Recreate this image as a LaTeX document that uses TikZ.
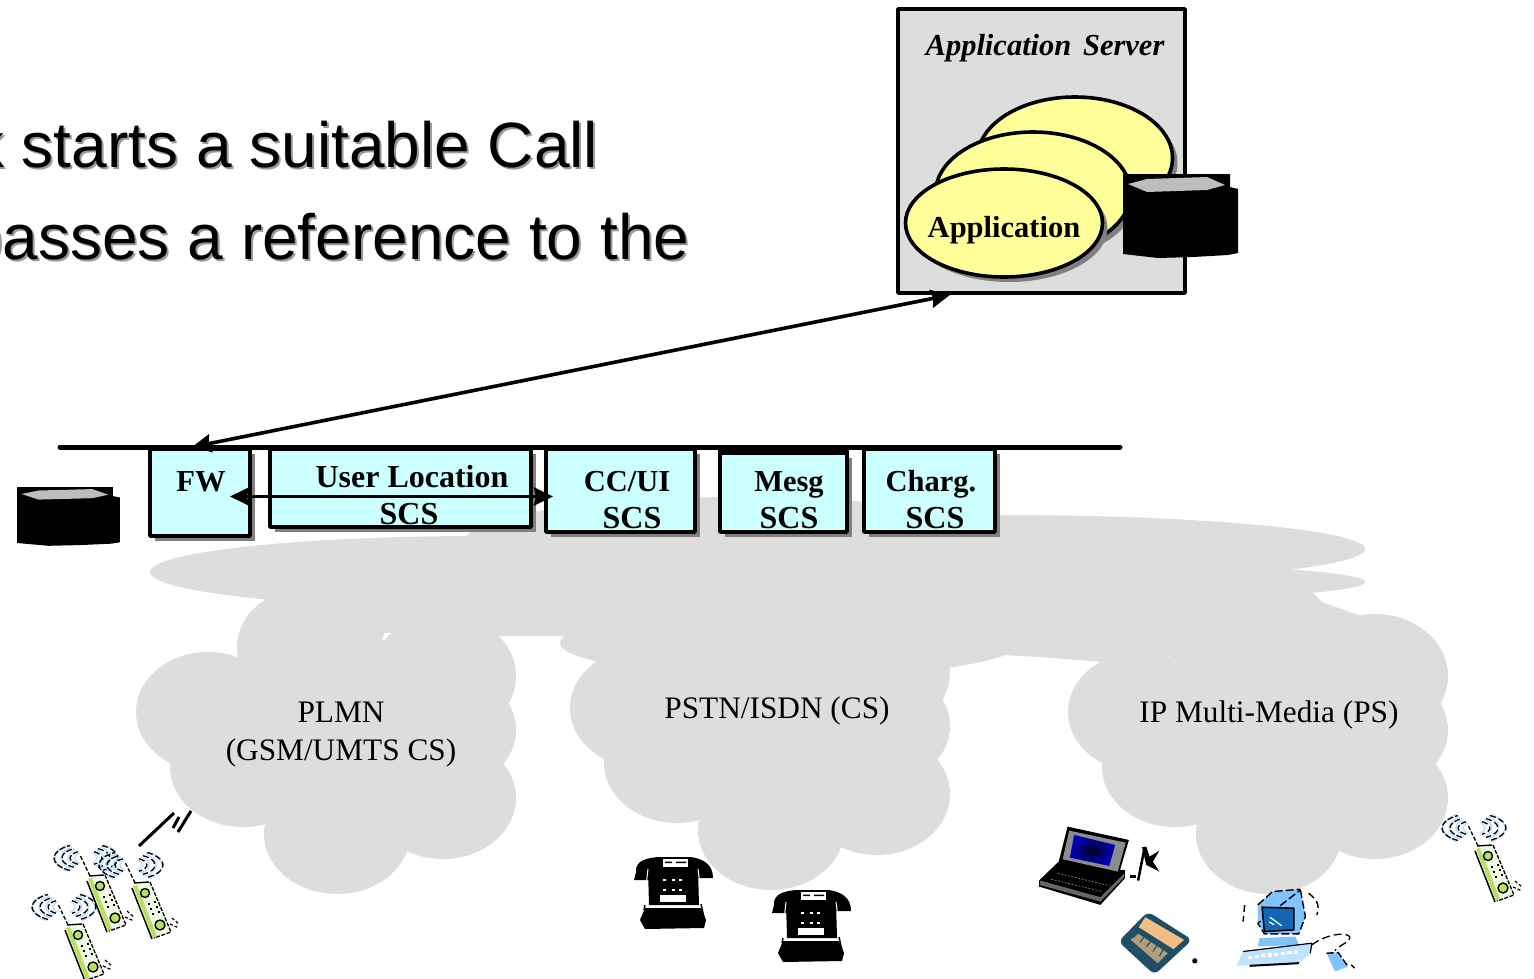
\documentclass[tikz,border=0pt]{standalone}
\usepackage{fontspec}
\setmainfont{Liberation Serif}
\newfontfamily\titlefont{Liberation Sans}
\usetikzlibrary{shapes.geometric,shadows,arrows.meta}
\definecolor{cloudgray}{HTML}{DDDDDD}
\definecolor{shadowgray}{HTML}{808080}
\definecolor{scsfill}{HTML}{CCFFFF}
\definecolor{appfill}{HTML}{FFFF99}
\definecolor{phonegreen}{HTML}{B5E061}
\definecolor{phonepale}{HTML}{F2FBE6}
\definecolor{wavepale}{HTML}{BFE0FF}
\definecolor{pcblue}{HTML}{80C4FF}
\definecolor{pcdark}{HTML}{1466B4}
\definecolor{pcpale}{HTML}{BFE2FF}
\definecolor{pdateal}{HTML}{1F4F66}
\definecolor{pdatan}{HTML}{F2BE85}
\tikzset{
  shadowed/.style={drop shadow={shadow xshift=5pt,shadow yshift=-5pt,opacity=1,fill=shadowgray}},
  scsbox/.style={rectangle,draw=black,line width=3.8pt,fill=scsfill,inner sep=0pt,shadowed},
  appell/.style={ellipse,draw=black,line width=3.6pt,fill=appfill,inner sep=0pt,shadowed},
  scslabel/.style={font=\fontsize{30.5}{36}\selectfont\bfseries,inner sep=0pt,anchor=base},
  scsword/.style={font=\fontsize{32}{36}\selectfont\bfseries,inner sep=0pt,anchor=base},
  cloudlabel/.style={font=\fontsize{31.3}{36}\selectfont,inner sep=0pt,anchor=base},
  titletext/.style={font=\titlefont\fontsize{64}{70}\selectfont,inner sep=0pt,anchor=base west},
  conn/.style={line width=3.6pt,{Stealth[length=19pt,width=18pt,inset=2pt]}-{Stealth[length=19pt,width=18pt,inset=2pt]}},
  cloudpic/.pic={
    \fill[cloudgray] (208,712) ellipse[x radius=72,y radius=60];
    \fill[cloudgray] (243,767) ellipse[x radius=73,y radius=60];
    \fill[cloudgray] (310,647) ellipse[x radius=73,y radius=60];
    \fill[cloudgray] (443,676) ellipse[x radius=73,y radius=62];
    \fill[cloudgray] (443,730) ellipse[x radius=73,y radius=60];
    \fill[cloudgray] (443,798) ellipse[x radius=73,y radius=61];
    \fill[cloudgray] (337,834) ellipse[x radius=73,y radius=60];
    \fill[cloudgray] (250,660) rectangle (470,815);
  },
  handset/.pic={
    \foreach \r in {13,20,27,33}{
      \draw[wavepale,line width=1.6pt,shift={(-21,-45)}] ({(\r-2)*cos(125)},{.5*\r*sin(125)}) arc[start angle=125,end angle=235,x radius=\r-2,y radius=.5*\r];
      \draw[wavepale,line width=1.6pt,shift={(-21,-45)}] ({(\r-2)*cos(-55)},{.5*\r*sin(-55)}) arc[start angle=-55,end angle=55,x radius=\r-2,y radius=.5*\r];
    }
    \foreach \r in {16,24,32}{
      \draw[black,line width=1.3pt,dash pattern=on 6pt off 2pt,shift={(-21,-45)}] ({\r*cos(120)},{.45*\r*sin(120)}) arc[start angle=120,end angle=240,x radius=\r,y radius=.45*\r];
      \draw[black,line width=1.3pt,dash pattern=on 6pt off 3pt,shift={(-21,-45)}] ({\r*cos(-60)},{.45*\r*sin(-60)}) arc[start angle=-60,end angle=60,x radius=\r,y radius=.45*\r];
    }
    \draw[black,line width=1.3pt,dash pattern=on 4pt off 2pt] (-17,-27) -- (-27,-48);
    \fill[phonepale] (-19,-25) -- (-1,-28) -- (19,22) -- (1,28) -- cycle;
    \fill[phonegreen] (-19,-24) -- (-15,-25) -- (5,26) -- (1,28) -- cycle;
    \draw[black,line width=1.5pt] (-20,-22) -- (0,29);
    \draw[black,line width=1.4pt] (-18,-27) -- (-3,-28);
    \draw[black,line width=1.3pt,dash pattern=on 4pt off 1.5pt] (-2,-28) -- (19,22) -- (2,28);
    \draw[black,line width=1.4pt,fill=phonegreen] (-7,-17) circle[radius=4.5];
    \draw[black,line width=1.4pt,fill=phonegreen] (8,15) circle[radius=5];
    \foreach \dx/\dy in {-3/-6,3/-8,-1/-1,5/-3,1/4,7/2}{
      \fill[black] (\dx-1.2,\dy-.9) rectangle (\dx+1.2,\dy+.9);
    }
    \draw[black,line width=1.2pt,dash pattern=on 3pt off 2pt] (20,8) -- (27,14) (18,14) -- (27,18);
  },
  deskphone/.pic={
    \fill[black] (-37,-20) .. controls (-38,-32) and (-25,-34) .. (-15,-35) -- (18,-35) .. controls (30,-33) and (40,-28) .. (40,-14) -- (24,-14) -- (24,-22) -- (-22,-22) -- (-24,-12) -- (-39,-12) -- cycle;
    \fill[white] (-10,-33) rectangle (15,-25);
    \fill[black] (-8,-29) rectangle (-1,-30.5) (3,-29) rectangle (13,-30.5);
    \fill[black] (-25,-23) -- (25,-23) -- (26,13) -- (-24,13) -- cycle;
    \draw[white,line width=1pt] (-25,-23) -- (-29,12) (25,-23) -- (30,16);
    \fill[white] (-13,3) rectangle (13,10);
    \foreach \dx in {-9,0,7}{
      \fill[white] (\dx-1.5,-13) rectangle (\dx+1.5,-11.5);
      \fill[white] (\dx-1.5,-3) rectangle (\dx+1.5,-1.5);
    }
    \fill[black] (-28,16) -- (28,16) -- (33,28) -- (31,36) -- (-28,37) -- (-33,28) -- cycle;
    \draw[black,line width=1.4pt] (-28,13) -- (-29,18) (28,12) -- (32,30);
  },
  dbdisk/.pic={
    \fill[black] (0,0) -- (107,0) -- (107,13) -- (115,15) -- (115,79) -- (105,81) -- (70,83) -- (35,84) -- (0,80) -- cycle;
    \fill[black!26] (5,10) -- (24,5) -- (84,3) -- (102,11) -- (84,16) -- (24,18) -- cycle;
  }
}
\begin{document}
\begin{tikzpicture}[x=1pt,y=-1pt,line join=round]
\useasboundingbox (0,0) rectangle (1534,979);
\begin{scope}
\clip (0,0) rectangle (1534,979);
% title text, cut off at the left edge
\node[titletext,text=black!40] (titleAshadow) at (-26,169.5) {k starts a suitable Call};
\node[titletext,text=black!40] (titleBshadow) at (-31,261.5) {passes a reference to the};
\node[titletext,text=black] (titleA) at (-28,167.5) {k starts a suitable Call};
\node[titletext,text=black] (titleB) at (-33,259.5) {passes a reference to the};

% network clouds
\pic at (0,0) {cloudpic};
\pic at (434,-4) {cloudpic};
\pic at (932,0) {cloudpic};
\fill[cloudgray] (480,572) ellipse[x radius=330,y radius=36];
\fill[cloudgray] (740,541) ellipse[x radius=275,y radius=44];
\fill[cloudgray] (1000,549) ellipse[x radius=365,y radius=34];
\fill[cloudgray] (1000,582) ellipse[x radius=365,y radius=21];
\fill[cloudgray] (790,643) ellipse[x radius=230,y radius=34];
\fill[cloudgray] (300,590) -- (1310,590) -- (1322,602) -- (1358,615) -- (1360,640) -- (1103,662) -- (1040,657) -- (900,650) -- (560,636) -- (300,637) -- cycle;
\fill[white] (384,633) -- (391,633) -- (384,640) -- cycle;

% bus
\coordinate (busL) at (60,447);
\coordinate (busR) at (1120,447);
\draw[black,line width=5pt,line cap=round] (busL) -- (busR);
\fill[black] (718,447) rectangle (849,453);

% SCS boxes
\node[scsbox,minimum width=100pt,minimum height=87pt] (fw) at (200,492.5) {};
\node[scsbox,minimum width=261pt,minimum height=78pt] (ul) at (400.5,488) {};
\node[scsbox,minimum width=149pt,minimum height=83pt] (cc) at (620.5,490.5) {};
\node[scsbox,minimum width=127pt,minimum height=79pt] (mesg) at (783.5,492.5) {};
\node[scsbox,minimum width=131pt,minimum height=83pt] (chg) at (929.5,490.5) {};
\node[scslabel] (fwT) at (201,491) {FW};
\node[scsword] (ulT) at (412,487) {User Location};
\node[scsword] (ulS) at (409,524) {SCS};
\node[scslabel] (ccT) at (627,491) {CC/UI};
\node[scsword] (ccS) at (632,528) {SCS};
\node[scslabel] (mesgT) at (789,491) {Mesg};
\node[scsword] (mesgS) at (789,528) {SCS};
\node[scslabel] (chgT) at (931,491) {Charg.};
\node[scsword] (chgS) at (935,528) {SCS};

% application server
\node[rectangle,draw=black,line width=3.6pt,fill=cloudgray,minimum width=287pt,minimum height=284pt,inner sep=0pt] (as) at (1041.5,151) {};
\node[font=\fontsize{30.5}{36}\selectfont\bfseries\itshape,inner sep=0pt,anchor=base] (asT) at (1045,56) {Application\hspace{4pt} Server};
\node[appell,minimum width=195pt,minimum height=122pt] (app3) at (1075,158) {};
\node[appell,minimum width=195pt,minimum height=122pt] (app2) at (1033,193) {};
\node[appell,minimum width=197pt,minimum height=108pt] (app1) at (1004,223) {};
\node[scslabel] (app1T) at (1004,237) {Application};

% databases
\pic at (1123,174) {dbdisk};
\pic[transform shape,xscale=.895,yscale=.70] at (17,487) {dbdisk};

% connectors
\coordinate (asIn) at (950,295);
\coordinate (fwIn) at (192,447);
\coordinate (fwMid) at (230,496.5);
\coordinate (ccMid) at (553,496.5);
\draw[conn] (fwIn) -- (asIn);
\draw[conn] (fwMid) -- (ccMid);

% cloud labels
\node[cloudlabel] (plmnA) at (341,722) {PLMN};
\node[cloudlabel] (plmnB) at (341,760) {(GSM/UMTS CS)};
\node[cloudlabel] (pstn) at (777,718) {PSTN/ISDN (CS)};
\node[cloudlabel] (ip) at (1269,722) {IP Multi-Media (PS)};

% radio link
\coordinate (rA) at (139,846);
\coordinate (rB) at (174,813);
\coordinate (rC) at (173,828);
\coordinate (rD) at (179,817);
\coordinate (rE) at (178,832);
\coordinate (rF) at (191,811);
\draw[black,line width=3pt] (rA) -- (rB) (rC) -- (rD) (rE) -- (rF);

% terminals
\pic at (107,903) {handset};
\pic at (152,910) {handset};
\pic at (85,952) {handset};
\pic at (1495,873) {handset};
\pic at (673,892) {deskphone};
\pic at (811,925) {deskphone};

% laptop
\begin{scope}[shift={(1020,790)},xscale=.328,yscale=.333]
\fill[black] (145,110) -- (332,150) -- (305,240) -- (320,240) -- (320,265) -- (245,345) -- (58,290) -- (58,272) -- (118,215) -- cycle;
\fill[black!45] (150,122) -- (322,158) -- (298,245) -- (130,208) -- cycle;
\shade[inner color=black!85!blue,outer color=blue!75!black] (165,135) -- (290,165) -- (272,228) -- (152,203) -- cycle;
\fill[black!60] (60,285) -- (245,335) -- (318,262) -- (318,250) -- (245,322) -- (62,272) -- cycle;
\draw[black!55,line width=.8pt,dash pattern=on 2pt off 1.5pt] (95,268) -- (250,305) (115,250) -- (275,288);
\fill[black] (335,255) rectangle (355,263);
\draw[black,line width=2.5pt] (360,272) -- (380,172);
\fill[black] (372,172) -- (385,170) -- (395,200) -- (425,182) -- (405,215) -- (425,245) -- (385,225) -- cycle;
% organiser
\fill[pdateal,rounded corners=6pt] (300,455) -- (390,365) -- (525,450) -- (410,555) -- cycle;
\fill[pdatan] (382,382) -- (500,450) -- (468,478) -- (362,412) -- cycle;
\fill[pdatan!70!pdateal] (338,450) -- (358,430) -- (450,490) -- (420,520) -- cycle;
\foreach \a in {0,1,2,3,4}{
  \draw[pdateal,line width=1.1pt] (345+\a*20,443+\a*14) -- (372+\a*18,418+\a*12);
}
\fill[black] (533,513) circle[radius=8];
% computer
\fill[pcblue] (725,345) -- (770,305) -- (855,298) -- (870,380) -- (850,432) -- (745,432) -- (725,400) -- cycle;
\draw[black,line width=1.4pt,dash pattern=on 8pt off 3pt] (725,345) -- (770,305) -- (855,298);
\draw[black,line width=1.4pt,dash pattern=on 8pt off 3pt] (855,300) -- (870,380) -- (850,432) -- (745,432) -- (725,400) -- cycle;
\fill[pcdark] (738,352) -- (835,355) -- (835,420) -- (745,425) -- cycle;
\draw[black,line width=1.6pt] (738,352) -- (835,355) -- (835,420) -- (745,425) -- cycle;
\draw[white,line width=1.2pt] (762,382) -- (798,408) (760,396) -- (775,405);
\fill[pcblue] (730,445) -- (840,440) -- (850,465) -- (725,470) -- cycle;
\fill[pcpale] (660,528) -- (680,485) -- (890,460) -- (885,490) -- (850,520) -- cycle;
\draw[black,line width=1.2pt] (680,485) -- (890,460) -- (885,490);
\draw[black,line width=2pt] (700,528) -- (850,520);
\foreach \a in {0,...,7}{
  \fill[white] (695+\a*20,497-\a*2.2) rectangle (708+\a*20,507-\a*2.2);
}
\draw[black,line width=1.3pt,dash pattern=on 8pt off 4pt] (890,465) .. controls (930,435) and (990,425) .. (1005,440) .. controls (1010,455) and (975,465) .. (960,482);
\fill[pcblue] (935,490) -- (970,488) -- (1000,530) -- (960,545) -- cycle;
\draw[black,line width=1.4pt,dash pattern=on 7pt off 3pt] (935,490) -- (970,488) -- (1000,530);
\draw[black,line width=1.4pt,dash pattern=on 7pt off 4pt] (685,345) -- (680,395) (880,310) .. controls (905,330) and (915,345) .. (905,375) (1010,525) -- (1020,535);
\end{scope}
\end{scope}
\end{tikzpicture}
\end{document}
